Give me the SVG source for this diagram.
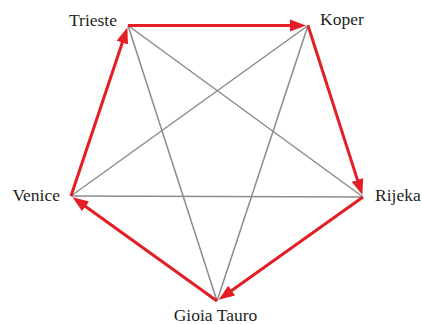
<svg xmlns="http://www.w3.org/2000/svg" width="422" height="324" viewBox="0 0 422 324">
<style>
.lbl{font-family:"Liberation Serif","Times New Roman",serif;font-size:17.5px;fill:#231f20}
.g{stroke:#8c8c8c;stroke-width:1.5;fill:none}
.r{stroke:#e31e24;stroke-width:3;fill:none;marker-end:url(#ah)}
</style>
<defs>
<marker id="ah" markerUnits="userSpaceOnUse" markerWidth="18" markerHeight="14" refX="6" refY="6" orient="auto" viewBox="0 0 18 12">
<path d="M0,0 L16,6 L0,12 z" fill="#e31e24"/>
</marker>
</defs>
<rect width="422" height="324" fill="#ffffff"/>
<g id="connectors">
<line class="g" x1="128" y1="25.5" x2="363" y2="197"/>
<line class="g" x1="128" y1="25.5" x2="217" y2="301"/>
<line class="g" x1="308" y1="25.5" x2="71" y2="196"/>
<line class="g" x1="308" y1="25.5" x2="217" y2="301"/>
<line class="g" x1="71" y1="196" x2="363" y2="197"/>
<line class="r" x1="128" y1="25.5" x2="296" y2="25.5"/>
<line class="r" x1="308" y1="25.5" x2="359.3" y2="185.6"/>
<line class="r" x1="363" y1="197" x2="226.8" y2="294"/>
<line class="r" x1="217" y1="301" x2="80.7" y2="203"/>
<line class="r" x1="71" y1="196" x2="124.2" y2="36.9"/>
</g>
<g id="trieste"><text class="lbl" x="117" y="26" text-anchor="end">Trieste</text></g>
<g id="koper"><text class="lbl" x="320" y="25">Koper</text></g>
<g id="rijeka"><text class="lbl" x="375" y="201">Rijeka</text></g>
<g id="venice"><text class="lbl" x="60" y="201" text-anchor="end">Venice</text></g>
<g id="gioia-tauro"><text class="lbl" x="215.5" y="321" text-anchor="middle">Gioia Tauro</text></g>
</svg>
